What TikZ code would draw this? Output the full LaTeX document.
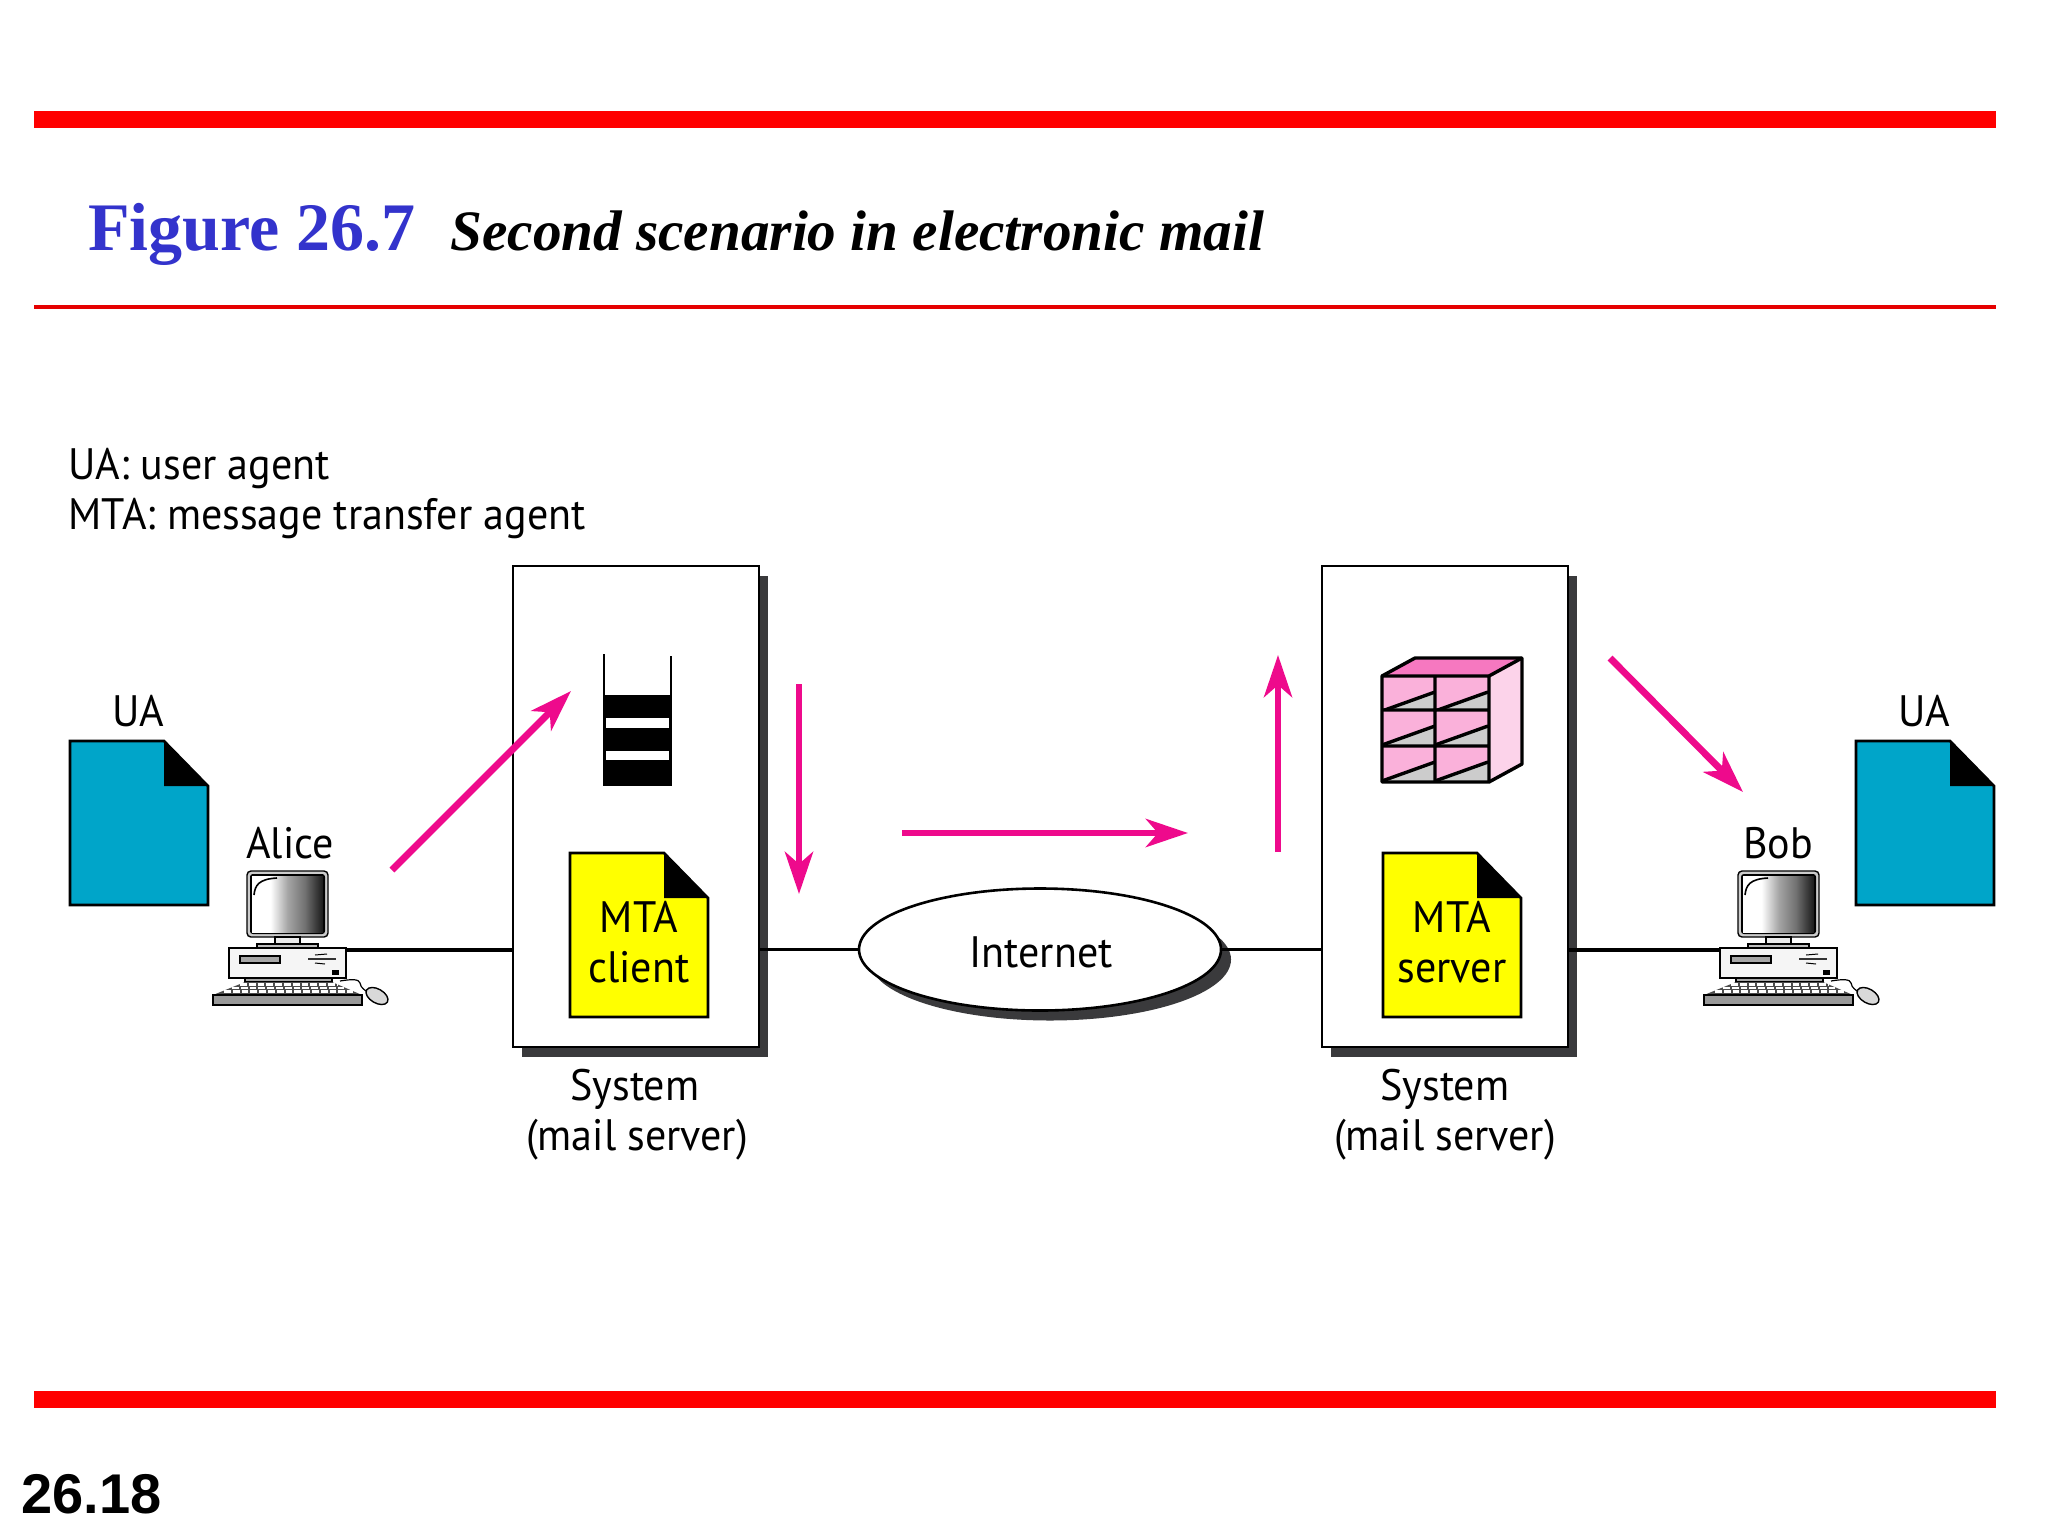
\documentclass[tikz,border=0pt]{standalone}
\usepackage{fontspec}
\usepackage{tikz}
\usetikzlibrary{arrows.meta,shadows,shapes.geometric}
\setmainfont{PT Sans}[FakeStretch=0.955]
\newfontfamily\headfont{Liberation Serif}
\newfontfamily\pagefont{Liberation Sans}
\definecolor{barred}{HTML}{FF0000}
\definecolor{headblue}{HTML}{3333CC}
\definecolor{flowpink}{HTML}{EE0A8C}
\definecolor{uablue}{HTML}{00A5C9}
\definecolor{mtayellow}{HTML}{FFFF00}
\definecolor{shadowgray}{HTML}{3A3A3C}
\pgfdeclarehorizontalshading{screenshade}{100bp}{color(0bp)=(white); color(38bp)=(white); color(50bp)=(black!35); color(62bp)=(black!55); color(75bp)=(black!90); color(100bp)=(black!90)}
\tikzset{
  lbl/.style={anchor=base,inner sep=0pt,font=\fontsize{22}{26}\selectfont},
  sysbox/.style={draw=black,fill=white,line width=1.3pt,inner sep=0pt,outer sep=0pt,
    minimum width=123pt,minimum height=240.5pt,
    drop shadow={shadow xshift=4.5pt,shadow yshift=-5pt,fill=shadowgray,opacity=1}},
  cloudnet/.style={draw=black,fill=white,ellipse,line width=1.3pt,inner sep=0pt,outer sep=0pt,
    minimum width=181pt,minimum height=61pt,
    drop shadow={shadow xshift=5pt,shadow yshift=-5pt,fill=shadowgray,opacity=1}},
  wire/.style={draw=black,line width=1.8pt},
  flow/.style={draw=flowpink,line width=3.4pt,-{Stealth[length=21pt,width=14pt,inset=6pt]}},
  sheet/.style={draw=black,line width=1.3pt,line join=miter},
  pc/.style={draw=black,line width=.7pt},
  shelf/.style={line width=1.7pt,line join=round},
  pics/computer/.style={code={
    \coordinate (-east) at (99,79);
    \coordinate (-west) at (-18,79);
    \draw[pc,fill=black!20,rounded corners=2pt] (0,0) rectangle (81,66);
    \draw[pc,fill=white,line width=1pt,rounded corners=1pt] (4,4) rectangle (77,62);
    \shade[shading=screenshade] (5,5) rectangle (76,61);
    \draw[line width=.8pt] (7,24) .. controls (8,14) and (12,8) .. (30,7);
    \draw[pc,fill=black!8] (28,66) rectangle (53,73);
    \draw[pc,fill=black!25] (10,73) rectangle (71,77);
    \draw[pc,fill=black!4] (-18,77) rectangle (99,107);
    \draw[pc,fill=black!35] (-7,85) rectangle (33,92);
    \draw[line width=1.2pt,black!80] (61,88) -- (89,88);
    \draw[line width=.5pt] (68,84) -- (80,83) (68,92) -- (78,93);
    \fill[black] (85,99) rectangle (92,104);
    \draw[pc,fill=black!35] (-2,107) rectangle (85,111);
    \fill[black!70] (-2,111) -- (85,111) -- (115,124) -- (-34,124) -- cycle;
    \foreach \keyy/\keyl/\keyr in {113.5/-7/90,117/-15/98,120.5/-23/106}
      \draw[white,line width=1.2pt,dash pattern=on 3.4pt off 1pt] (\keyl,\keyy) -- (\keyr,\keyy);
    \draw[pc,fill=black!40] (-34,124) rectangle (115,134);
    \draw[line width=.6pt] (93,110) .. controls (105,108) and (112,108) .. (113,112) .. controls (114,118) and (118,118) .. (120,121);
    \draw[pc,fill=black!15,rotate around={-30:(130,125)}] (130,125) ellipse (12 and 7);
  }}
}
\newcommand{\docsheet}[3]{%
  \draw[sheet,fill=#3] (#1,#2) -- ++(94,0) -- ++(44,45) -- ++(0,119) -- ++(-138,0) -- cycle;
  \fill[black] (#1,#2) ++(94,0) -- ++(44,45) -- ++(-44,0) -- cycle;
}
\newcommand{\waitstack}[2]{%
  \fill[black] (#1,#2) ++(0,41) rectangle ++(69,91);
  \draw[line width=1.4pt] (#1,#2) ++(1,0) -- ++(0,41) ++(67,-39) -- ++(0,39);
  \fill[white] (#1,#2) ++(3,64) rectangle ++(63,10);
  \fill[white] (#1,#2) ++(3,97) rectangle ++(63,9);
}
\begin{document}
\begin{tikzpicture}[x=.5pt,y=-.5pt]
\useasboundingbox[fill=white] (0,0) rectangle (2048,1536);

\fill[barred] (34,111) rectangle (1996,128);
\fill[barred!90!black] (34,305) rectangle (1996,309);
\fill[barred] (34,1391) rectangle (1996,1408);

\node[anchor=base west,inner sep=0pt,text=headblue,font=\headfont\bfseries\fontsize{34}{38}\selectfont] (figno) at (88,250) {Figure 26.7};
\node[anchor=base west,inner sep=0pt,font=\headfont\bfseries\itshape\fontsize{28.6}{34}\selectfont] (figtitle) at (450,250) {Second scenario in electronic mail};
\node[anchor=base west,inner sep=0pt,font=\pagefont\bfseries\fontsize{28}{32}\selectfont] (pageno) at (21,1513) {26.18};

\node[lbl,anchor=base west] (keyua) at (68,479) {UA: user agent};
\node[lbl,anchor=base west] (keymta) at (68,529) {MTA: message transfer agent};

\node[sysbox] (client) at (636,806.5) {};
\node[sysbox] (server) at (1445,806.5) {};
\node[cloudnet] (net) at (1040,949.5) {};
\node[lbl] (netlabel) at (1041,967) {Internet};

\pic (alice) at (247,871) {computer};
\pic (bob) at (1738,871) {computer};

\draw[wire] (alice-east) -- (alice-east -| client.west);
\draw[wire] (client.east |- net.west) -- (net.west);
\draw[wire] (net.east) -- (net.east -| server.west);
\draw[wire] (server.east |- bob-west) -- (bob-west);

\docsheet{70}{741}{uablue}
\docsheet{1856}{741}{uablue}
\docsheet{570}{853}{mtayellow}
\docsheet{1383}{853}{mtayellow}
\waitstack{603}{654}

\fill[flowpink!55] (1382,676) -- (1415,658) -- (1522,658) -- (1489,676) -- cycle;
\fill[flowpink!18] (1489,676) -- (1522,658) -- (1522,764) -- (1489,782) -- cycle;
\foreach \cellx in {1382,1435}
  \foreach \celly in {676,710,746}{
    \fill[flowpink!32] (\cellx,\celly) rectangle ++(53,35);
    \fill[black!20] (\cellx,\celly) ++(0,35) -- ++(53,0) -- ++(0,-19) -- cycle;
    \draw[shelf] (\cellx,\celly) ++(0,35) -- ++(53,-19);
  }
\draw[shelf] (1382,676) -- (1415,658) -- (1522,658) -- (1522,764) -- (1489,782) -- (1382,782) -- cycle;
\draw[shelf] (1382,676) -- (1489,676) -- (1522,658) (1489,676) -- (1489,782) (1435,676) -- (1435,782) (1382,710) -- (1489,710) (1382,746) -- (1489,746);

\node[lbl] (uaone) at (138,726) {UA};
\node[lbl] (uatwo) at (1924,726) {UA};
\node[lbl] (alicelabel) at (290,858) {Alice};
\node[lbl] (boblabel) at (1778,858) {Bob};
\node[lbl] (mtaone) at (639,932) {MTA};
\node[lbl] (clientlabel) at (639,982) {client};
\node[lbl] (mtatwo) at (1452,932) {MTA};
\node[lbl] (serverlabel) at (1452,982) {server};
\node[lbl] (sysone) at (635,1100) {System};
\node[lbl] (mailone) at (637,1150) {(mail server)};
\node[lbl] (systwo) at (1445,1100) {System};
\node[lbl] (mailtwo) at (1445,1150) {(mail server)};

\coordinate (flowastart) at (392,870);
\coordinate (flowaend) at (571,691);
\coordinate (flowbstart) at (799,684);
\coordinate (flowbend) at (799,894);
\coordinate (flowcstart) at (902,833);
\coordinate (flowcend) at (1188,833);
\coordinate (flowdstart) at (1278,852);
\coordinate (flowdend) at (1278,655);
\coordinate (flowestart) at (1610,658);
\coordinate (floweend) at (1743,792);
\draw[flow] (flowastart) -- (flowaend);
\draw[flow] (flowbstart) -- (flowbend);
\draw[flow] (flowcstart) -- (flowcend);
\draw[flow] (flowdstart) -- (flowdend);
\draw[flow] (flowestart) -- (floweend);
\end{tikzpicture}
\end{document}
